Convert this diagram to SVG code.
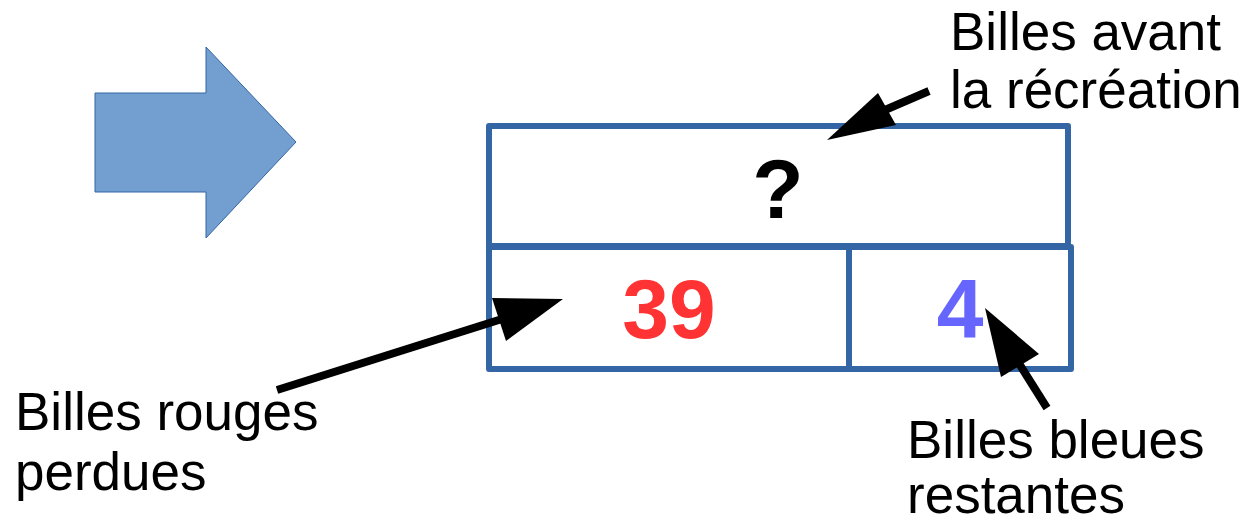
<svg xmlns="http://www.w3.org/2000/svg" width="1257" height="520" viewBox="0 0 1257 520">
<style>
.box{fill:none;stroke:#3465a4;stroke-width:6;stroke-linejoin:round}
.lbl{font-family:"Liberation Sans",Arial,sans-serif;font-size:53px;fill:#000}
.num{font-family:"Liberation Sans",Arial,sans-serif;font-size:84px;font-weight:bold;text-anchor:middle}
.conn line{stroke:#000;stroke-width:8}
.conn polygon{fill:#000}
</style>
<rect width="1257" height="520" fill="#fff"/>
<g id="bigArrow">
<polygon points="95,93 206,93 206,47 296,142 206,238 206,192 95,192" fill="#729fcf" stroke="#3465a4" stroke-width="1"/>
</g>
<g id="total">
<rect class="box" x="489" y="126" width="579" height="120"/>
<text class="num" x="778" y="218" fill="#000">?</text>
</g>
<g id="red">
<rect class="box" x="489" y="247" width="360" height="122"/>
<text class="num" x="669" y="338" fill="#ff3333">39</text>
</g>
<g id="blue">
<path class="box" d="M849,247 H1071 V369 H849"/>
<text class="num" x="960" y="338" fill="#6666ff">4</text>
</g>
<g id="labelTop">
<text class="lbl" x="950" y="50">Billes avant</text>
<text class="lbl" x="950" y="108">la récréation</text>
</g>
<g id="labelLeft">
<text class="lbl" x="15" y="430">Billes rouges</text>
<text class="lbl" x="15" y="490">perdues</text>
</g>
<g id="labelRight">
<text class="lbl" x="907" y="458">Billes bleues</text>
<text class="lbl" x="907" y="513">restantes</text>
</g>
<g id="connectors" class="conn">
<line x1="929" y1="91" x2="885" y2="110"/>
<polygon points="827,140 878,93 896,125"/>
<line x1="277" y1="390" x2="502" y2="319"/>
<polygon points="563,299 492,298 506,341"/>
<line x1="1047" y1="408" x2="1018" y2="362"/>
<polygon points="985,308 1039,354 1001,377"/>
</g>
</svg>
